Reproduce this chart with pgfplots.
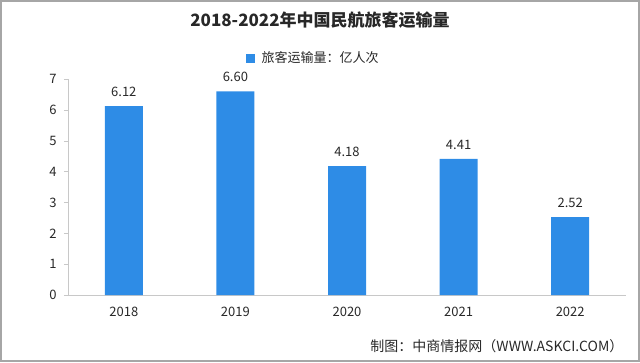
\documentclass[border=0pt]{standalone}
\usepackage{pgfplots}
\pgfplotsset{compat=1.18}
\usepackage{fontspec}
\setmainfont{Noto Sans CJK SC}
\definecolor{barblue}{RGB}{46,140,230}
\definecolor{axgray}{RGB}{200,200,200}
\definecolor{txt}{RGB}{40,40,40}
\begin{document}
\begin{tikzpicture}[x=1pt,y=1pt]
\path[use as bounding box] (0,0) rectangle (640,362);
\draw[color=gray!70,line width=1.5pt] (1,1) rectangle (639,361);
\node[font=\fontsize{17}{20}\selectfont\bfseries,text=txt] at (320,342) {2018-2022年中国民航旅客运输量};
\fill[barblue] (246,299) rectangle (255,308);
\node[font=\fontsize{13}{15}\selectfont,text=txt,anchor=west] at (258,304) {旅客运输量：亿人次};
\node[font=\fontsize{14}{16}\selectfont,text=txt,anchor=east] at (627,16) {制图：中商情报网（WWW.ASKCI.COM）};
\begin{axis}[
  at={(68pt,67pt)}, anchor=south west,
  scale only axis, width=558pt, height=216pt,
  xmin=-0.5, xmax=4.5, ymin=0, ymax=7,
  axis x line*=bottom, axis y line*=left,
  axis line style={color=axgray},
  xtick={0,1,2,3,4},
  xticklabels={2018,2019,2020,2021,2022},
  extra x ticks={0.5,1.5,2.5,3.5},
  extra x tick labels={},
  extra x tick style={major tick length=5pt, tick style={color=axgray}, tick align=outside},
  x tick style={draw=none},
  ytick={0,1,...,7},
  y tick style={color=axgray}, tick align=outside, major tick length=4pt,
  x tick label style={font=\fontsize{13}{15}\selectfont, text=txt, yshift=-5pt},
  y tick label style={font=\fontsize{13}{15}\selectfont, text=txt, xshift=-4pt},
  /pgf/number format/assume math mode=true,
  ybar, bar width=38pt,
  nodes near coords,
  nodes near coords style={font=\fontsize{13}{15}\selectfont, text=txt, yshift=6pt, /pgf/number format/.cd, fixed, fixed zerofill, precision=2},
  clip=false,
]
\addplot[fill=barblue, draw=none] coordinates {(0,6.12) (1,6.60) (2,4.18) (3,4.41) (4,2.52)};
\end{axis}
\end{tikzpicture}
\end{document}
